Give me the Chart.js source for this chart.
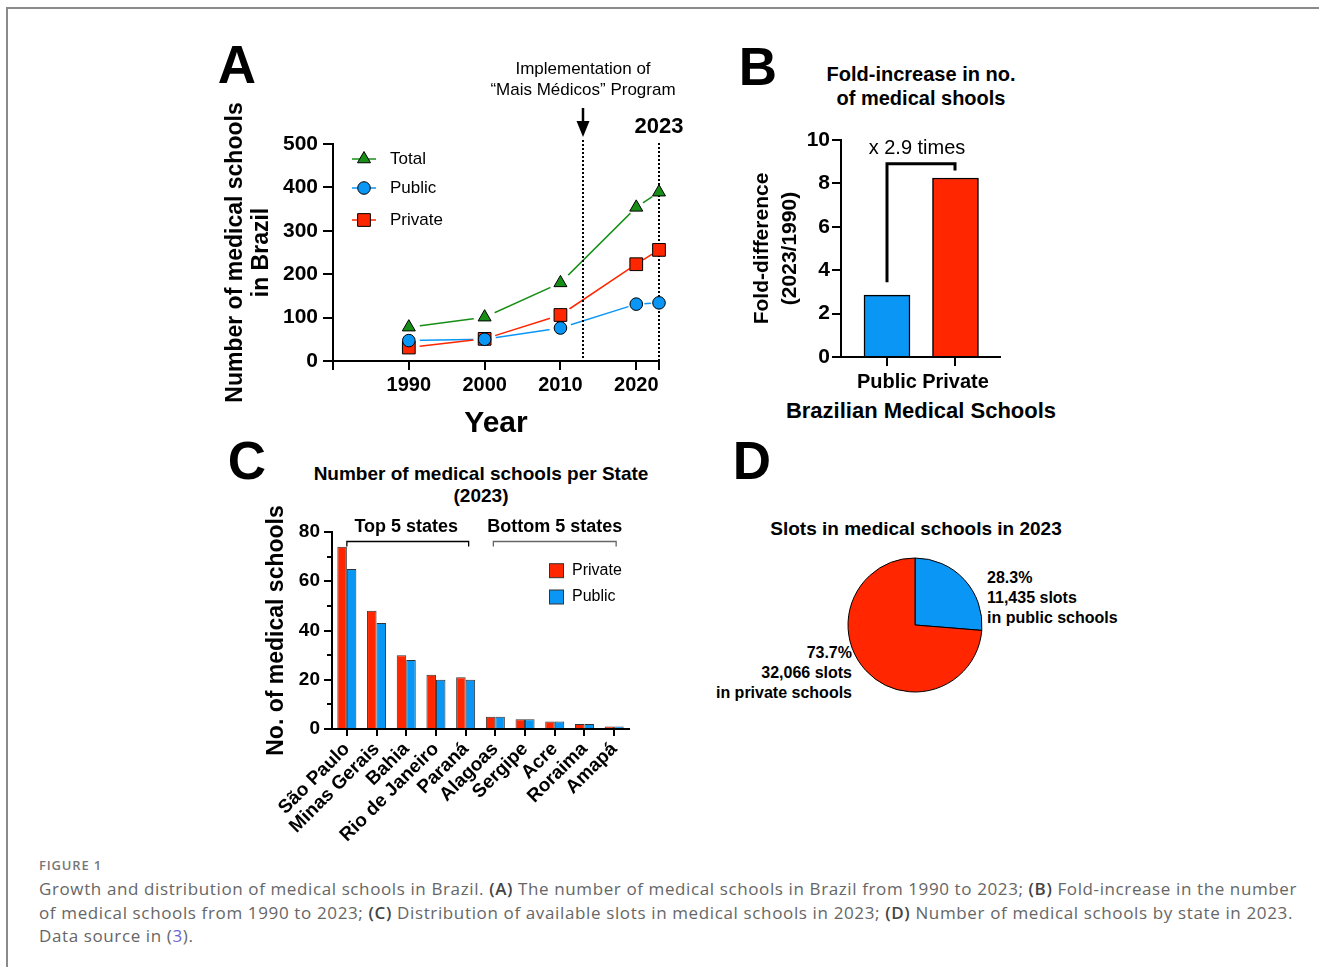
<!DOCTYPE html>
<html>
<head>
<meta charset="utf-8">
<script src="https://cdn.jsdelivr.net/npm/chart.js@4/dist/chart.umd.min.js"></script>
<style>
  html, body { margin: 0; padding: 0; background: #fff; }
  body { width: 1319px; height: 967px; position: relative; overflow: hidden;
         font-family: 'Liberation Sans', Arial, Helvetica, sans-serif; color: #000; }
  .frame { position: absolute; left: 6px; top: 7px; width: 1320px; height: 970px;
           border-left: 2px solid #8a8a8a; border-top: 2px solid #8a8a8a; }
  canvas { position: absolute; }
  .t { position: absolute; white-space: nowrap; line-height: 1; transform: translate(-50%, -50%); }
  .tl { position: absolute; white-space: nowrap; line-height: 1; transform: translate(0, -50%); }
  .tr { position: absolute; white-space: nowrap; line-height: 1; transform: translate(-100%, -50%); }
  .letter { font-size: 53px; font-weight: bold; }
  .b { font-weight: bold; }
  .cap { position: absolute; left: 39px; white-space: nowrap; line-height: 1; transform: translate(0, -50%);
         font-family: 'Open Sans', 'Noto Sans', sans-serif; font-weight: 400; font-size: 17px; color: #666; }
  .cap b { color: #444; font-weight: 600; }
</style>
</head>
<body>
<div class="frame"></div>

<div class="t letter" style="left:237px; top:64px;">A</div>
<div class="t letter" style="left:758px; top:66px;">B</div>
<div class="t letter" style="left:247px; top:460px;">C</div>
<div class="t letter" style="left:752px; top:460px;">D</div>

<div class="t b" style="left:921px; top:74px; font-size:20px;">Fold-increase in no.</div>
<div class="t b" style="left:921px; top:98px; font-size:20px;">of medical shools</div>
<div class="t b" style="left:921px; top:411px; font-size:22px;">Brazilian Medical Schools</div>

<div class="t b" style="left:481px; top:473px; font-size:19px;">Number of medical schools per State</div>
<div class="t b" style="left:481px; top:495px; font-size:19px;">(2023)</div>

<div class="t b" style="left:916px; top:528px; font-size:19px;">Slots in medical schools in 2023</div>
<div class="tl b" style="left:987px; top:578px; font-size:16px;">28.3%</div>
<div class="tl b" style="left:987px; top:598px; font-size:16px;">11,435 slots</div>
<div class="tl b" style="left:987px; top:618px; font-size:16px;">in public schools</div>
<div class="tr b" style="left:852px; top:653px; font-size:16px;">73.7%</div>
<div class="tr b" style="left:852px; top:673px; font-size:16px;">32,066 slots</div>
<div class="tr b" style="left:852px; top:693px; font-size:16px;">in private schools</div>

<div class="cap" id="fig" style="top:865px; font-size:13px; font-weight:600; color:#777;">FIGURE 1</div>
<div class="cap" id="cap1" style="top:888px;">Growth and distribution of medical schools in Brazil. <b>(A)</b> The number of medical schools in Brazil from 1990 to 2023; <b>(B)</b> Fold-increase in the number</div>
<div class="cap" id="cap2" style="top:912px;">of medical schools from 1990 to 2023; <b>(C)</b> Distribution of available slots in medical schools in 2023; <b>(D)</b> Number of medical schools by state in 2023.</div>
<div class="cap" id="cap3" style="top:935px;">Data source in (<span style="color:#6f63d6">3</span>).</div>

<canvas id="chartA" width="500" height="400" style="left:200px; top:40px;"></canvas>
<canvas id="chartB" width="280" height="320" style="left:740px; top:110px;"></canvas>
<canvas id="chartC" width="400" height="350" style="left:250px; top:500px;"></canvas>
<canvas id="chartD" width="150" height="150" style="left:840px; top:550px;"></canvas>

<script>
// Panel A: number of medical schools by year
const years = [1990, 2000, 2010, 2020, 2023];
const totalSchools = [78, 101, 180, 354, 389];
const publicSchools = [47, 50, 76, 131, 134];
const privateSchools = [31, 51, 106, 223, 256];
const yearTicks = [1980, 1990, 2000, 2010, 2020, 2023];
const yearLabels = [1990, 2000, 2010, 2020];
const countTicks = [0, 100, 200, 300, 400, 500];
const programYear = 2013;

// Panel B: fold increase 2023/1990
const foldGroups = ['Public', 'Private'];
const foldValues = [2.85, 8.25];
const foldTicks = [0, 2, 4, 6, 8, 10];

// Panel C: schools per state (2023)
const states = ['São Paulo', 'Minas Gerais', 'Bahia', 'Rio de Janeiro', 'Paraná',
                'Alagoas', 'Sergipe', 'Acre', 'Roraima', 'Amapá'];
const privateByState = [74, 48, 30, 22, 21, 5, 4, 3, 2, 1];
const publicByState = [65, 43, 28, 20, 20, 5, 4, 3, 2, 1];
const stateTicks = [0, 20, 40, 60, 80];
const stateMinorTicks = [10, 30, 50, 70];

// Panel D: slots in 2023
const slotGroups = ['Public', 'Private'];
const slotValues = [11435, 32066];

const GREEN = '#178f17';
const BLUE = '#0a96f5';
const RED = '#ff2600';
const FONT = "'Liberation Sans', Arial, Helvetica, sans-serif";

Chart.defaults.font.family = FONT;
Chart.defaults.color = '#000';
Chart.defaults.animation = false;
Chart.defaults.events = [];
Chart.defaults.plugins.legend.display = false;
Chart.defaults.plugins.tooltip.enabled = false;

function axisStyle(tickLength) {
    return {
        border: { display: true, color: '#000', width: 2, z: 1 },
        grid: { drawOnChartArea: false, drawTicks: true, tickLength: tickLength, color: '#000', lineWidth: 2, offset: false }
    };
}

function fixedTicks(values) {
    return scale => { scale.ticks = values.map(v => ({ value: v })); };
}

function drawMarker(ctx, style, x, y, r, color) {
    ctx.beginPath();
    if (style === 'triangle') {
        ctx.moveTo(x, y - r);
        ctx.lineTo(x + r * Math.cos(Math.PI / 6), y + r / 2);
        ctx.lineTo(x - r * Math.cos(Math.PI / 6), y + r / 2);
        ctx.closePath();
    } else if (style === 'rect') {
        const s = r * Math.SQRT1_2;
        ctx.rect(x - s, y - s, 2 * s, 2 * s);
    } else {
        ctx.arc(x, y, r, 0, Math.PI * 2);
    }
    ctx.fillStyle = color;
    ctx.fill();
    ctx.lineWidth = 1;
    ctx.strokeStyle = '#000';
    ctx.stroke();
}

// ---------- Panel A ----------
const seriesA = [
    { label: 'Total', values: totalSchools, color: GREEN, style: 'triangle', radius: 7.5, order: 3 },
    { label: 'Public', values: publicSchools, color: BLUE, style: 'circle', radius: 6.3, order: 1 },
    { label: 'Private', values: privateSchools, color: RED, style: 'rect', radius: 9, order: 2 }
];
const toPoints = values => years.map((yr, i) => ({ x: yr, y: values[i] }));

// white disc under each marker, so lines stop short of the symbols
function haloRadius(ctx) {
    const xs = ctx.chart.scales.x;
    const i = ctx.dataIndex;
    const px = xs.getPixelForValue(years[i]);
    let gap = Infinity;
    if (i > 0) gap = Math.min(gap, px - xs.getPixelForValue(years[i - 1]));
    if (i < years.length - 1) gap = Math.min(gap, xs.getPixelForValue(years[i + 1]) - px);
    return Math.min(11, gap * 0.36);
}

const datasetsA = [
    ...seriesA.map((s, k) => ({
        data: toPoints(s.values), borderColor: s.color, borderWidth: 1.5,
        pointRadius: 0, tension: 0, order: 9 - k
    })),
    ...seriesA.map((s, k) => ({
        data: toPoints(s.values), showLine: false, pointRadius: haloRadius,
        pointBackgroundColor: '#fff', pointBorderWidth: 0, order: 6 - k
    })),
    ...seriesA.map(s => ({
        data: toPoints(s.values), showLine: false, pointStyle: s.style, pointRadius: s.radius,
        pointBackgroundColor: s.color, pointBorderColor: '#000', pointBorderWidth: 1, order: s.order,
        clip: false
    }))
];

const panelAExtras = {
    id: 'panelAExtras',
    afterDatasetDraw(chart, args) {
        if (args.index !== 5) return; // after the last halo layer, before markers
        const { ctx, chartArea, scales: { x } } = chart;
        ctx.save();
        ctx.strokeStyle = '#000';
        ctx.lineWidth = 2;
        ctx.setLineDash([2, 2]);
        [[programYear, chartArea.top - 4], [years[years.length - 1], chartArea.top - 1]].forEach(([yr, top]) => {
            const px = Math.round(x.getPixelForValue(yr));
            ctx.beginPath();
            ctx.moveTo(px, top);
            ctx.lineTo(px, chartArea.bottom);
            ctx.stroke();
        });
        ctx.restore();
    },
    afterDraw(chart) {
        const { ctx, scales: { x } } = chart;
        const px = Math.round(x.getPixelForValue(programYear));
        ctx.save();
        ctx.fillStyle = '#000';
        ctx.textAlign = 'center';
        ctx.textBaseline = 'middle';
        ctx.font = '17px ' + FONT;
        ctx.fillText('Implementation of', px, 29);
        ctx.fillText('\u201CMais Médicos\u201D Program', px, 50);
        // arrow
        ctx.strokeStyle = '#000';
        ctx.lineWidth = 2.5;
        ctx.beginPath();
        ctx.moveTo(px, 68);
        ctx.lineTo(px, 84);
        ctx.stroke();
        ctx.beginPath();
        ctx.moveTo(px - 6.5, 81);
        ctx.lineTo(px + 6.5, 81);
        ctx.lineTo(px, 97);
        ctx.closePath();
        ctx.fill();
        ctx.font = 'bold 22px ' + FONT;
        ctx.fillText('2023', x.getPixelForValue(years[years.length - 1]), 87);

        // legend
        const rows = [119, 148, 180];
        seriesA.forEach((s, k) => {
            const y = rows[k];
            ctx.strokeStyle = s.color;
            ctx.lineWidth = 1.5;
            ctx.beginPath();
            ctx.moveTo(152, y);
            ctx.lineTo(176, y);
            ctx.stroke();
            drawMarker(ctx, s.style, 164, y, s.radius, s.color);
            ctx.fillStyle = '#000';
            ctx.font = '17px ' + FONT;
            ctx.textAlign = 'left';
            ctx.fillText(s.label, 190, y);
        });
        ctx.restore();
    }
};

new Chart(document.getElementById('chartA'), {
    type: 'line',
    data: { datasets: datasetsA },
    options: {
        responsive: false,
        layout: { padding: { top: 104, right: 41, left: 0, bottom: 0 } },
        scales: {
            x: {
                type: 'linear', min: 1980, max: 2023,
                afterBuildTicks: fixedTicks(yearTicks),
                afterFit: s => { s.height = 79; },
                ...axisStyle(9),
                ticks: {
                    callback: v => yearLabels.includes(v) ? String(v) : '',
                    font: { size: 20, weight: 'bold' }, color: '#000', padding: 3,
                    maxRotation: 0, autoSkip: false
                },
                title: { display: true, text: 'Year', color: '#000',
                         font: { size: 30, weight: 'bold', lineHeight: 1 }, padding: { top: 0, bottom: 1 } }
            },
            y: {
                min: 0, max: 500,
                afterBuildTicks: fixedTicks(countTicks),
                afterFit: s => { s.width = 133; },
                ...axisStyle(10),
                ticks: { font: { size: 21, weight: 'bold' }, color: '#000', padding: 5 },
                title: { display: true, text: ['Number of medical schools', 'in Brazil'], color: '#000',
                         font: { size: 23, weight: 'bold', lineHeight: 1.13 }, padding: { top: 23, bottom: 0 } }
            }
        }
    },
    plugins: [panelAExtras]
});

// ---------- Panel B ----------
const panelBExtras = {
    id: 'panelBExtras',
    afterDatasetsDraw(chart) {
        const { ctx, scales: { x, y } } = chart;
        const xl = Math.round(x.getPixelForValue(1));
        const xr = Math.round(x.getPixelForValue(2));
        const yTop = y.getPixelForValue(8.9);
        ctx.save();
        ctx.strokeStyle = '#000';
        ctx.lineWidth = 3;
        ctx.lineJoin = 'miter';
        ctx.beginPath();
        ctx.moveTo(xl, y.getPixelForValue(foldValues[0] + 0.6));
        ctx.lineTo(xl, yTop);
        ctx.lineTo(xr, yTop);
        ctx.lineTo(xr, y.getPixelForValue(foldValues[1] + 0.35));
        ctx.stroke();
        ctx.fillStyle = '#000';
        ctx.font = '20px ' + FONT;
        ctx.textAlign = 'center';
        ctx.textBaseline = 'middle';
        ctx.fillText('x 2.9 times', (xl + xr) / 2 - 4, y.getPixelForValue(9.6));
        ctx.restore();
    }
};

new Chart(document.getElementById('chartB'), {
    type: 'bar',
    data: {
        datasets: [{
            data: foldValues.map((v, i) => ({ x: i + 1, y: v })),
            backgroundColor: [BLUE, RED],
            borderColor: '#000',
            borderWidth: 1.5,
            barThickness: 46
        }]
    },
    options: {
        responsive: false,
        layout: { padding: { top: 30, right: 20, left: 0, bottom: 0 } },
        scales: {
            x: {
                type: 'linear', min: 0.3285, max: 2.65, offset: false,
                afterBuildTicks: fixedTicks([1, 2]),
                afterFit: s => { s.height = 73; },
                ...axisStyle(9),
                ticks: { callback: v => foldGroups[v - 1] || '', font: { size: 20, weight: 'bold' },
                         color: '#000', padding: 4, maxRotation: 0, autoSkip: false }
            },
            y: {
                min: 0, max: 10,
                afterBuildTicks: fixedTicks(foldTicks),
                afterFit: s => { s.width = 101; },
                ...axisStyle(9),
                ticks: { font: { size: 21, weight: 'bold' }, color: '#000', padding: 2 },
                title: { display: true, text: ['Fold-difference', '(2023/1990)'], color: '#000',
                         font: { size: 21, weight: 'bold', lineHeight: 1.33 }, padding: { top: 8, bottom: 0 } }
            }
        }
    },
    plugins: [panelBExtras]
});

// ---------- Panel C ----------
const panelCExtras = {
    id: 'panelCExtras',
    afterDraw(chart) {
        const { ctx, chartArea, scales: { x, y } } = chart;
        ctx.save();
        // minor ticks
        ctx.strokeStyle = '#000';
        ctx.lineWidth = 2;
        stateMinorTicks.forEach(v => {
            const py = Math.round(y.getPixelForValue(v));
            ctx.beginPath();
            ctx.moveTo(chartArea.left - 5, py);
            ctx.lineTo(chartArea.left, py);
            ctx.stroke();
        });
        // group brackets
        const by = Math.round(y.getPixelForValue(76.4)) + 0.5;
        const groups = [
            { text: 'Top 5 states', from: 0, to: 4, color: '#000', l: 0, r: 3 },
            { text: 'Bottom 5 states', from: 5, to: 9, color: '#666', l: -2, r: 2 }
        ];
        groups.forEach(g => {
            const x0 = x.getPixelForValue(g.from) + g.l;
            const x1 = x.getPixelForValue(g.to) + g.r;
            ctx.strokeStyle = g.color;
            ctx.lineWidth = 1.3;
            ctx.beginPath();
            ctx.moveTo(x0, by + 5);
            ctx.lineTo(x0, by);
            ctx.lineTo(x1, by);
            ctx.lineTo(x1, by + 5);
            ctx.stroke();
            ctx.fillStyle = '#000';
            ctx.font = 'bold 18px ' + FONT;
            ctx.textAlign = 'center';
            ctx.textBaseline = 'middle';
            ctx.fillText(g.text, (x.getPixelForValue(g.from) + x.getPixelForValue(g.to)) / 2, by - 14);
        });
        // legend
        const items = [['Private', RED, 38.7], ['Public', BLUE, 65]];
        items.forEach(([label, color, dy]) => {
            const cy = chartArea.top + dy;
            ctx.fillStyle = color;
            ctx.fillRect(chartArea.left + 217.5, cy - 7, 14, 14);
            ctx.strokeStyle = '#333';
            ctx.lineWidth = 1;
            ctx.strokeRect(chartArea.left + 217.5, cy - 7, 14, 14);
            ctx.fillStyle = '#000';
            ctx.font = '16px ' + FONT;
            ctx.textAlign = 'left';
            ctx.textBaseline = 'middle';
            ctx.fillText(label, chartArea.left + 240, cy);
        });
        ctx.restore();
    }
};

new Chart(document.getElementById('chartC'), {
    type: 'bar',
    data: {
        labels: states,
        datasets: [
            { label: 'Private', data: privateByState, backgroundColor: RED, borderColor: '#333', borderWidth: 1 },
            { label: 'Public', data: publicByState, backgroundColor: BLUE, borderColor: '#333', borderWidth: 1 }
        ]
    },
    options: {
        responsive: false,
        layout: { padding: { top: 32, right: 21, left: 0, bottom: 0 } },
        datasets: { bar: { categoryPercentage: 0.64, barPercentage: 1 } },
        scales: {
            x: {
                offset: true,
                afterFit: s => { s.height = 121; },
                ...axisStyle(7),
                ticks: { font: { size: 19, weight: 'bold' }, color: '#000', padding: 2,
                         minRotation: 45, maxRotation: 45, autoSkip: false }
            },
            y: {
                min: 0, max: 80,
                afterBuildTicks: fixedTicks(stateTicks),
                afterFit: s => { s.width = 82; },
                ...axisStyle(8),
                ticks: { font: { size: 19, weight: 'bold' }, color: '#000', padding: 4 },
                title: { display: true, text: 'No. of medical schools', color: '#000',
                         font: { size: 23, weight: 'bold', lineHeight: 1 }, padding: { top: 15, bottom: 0 } }
            }
        }
    },
    plugins: [panelCExtras]
});

// ---------- Panel D ----------
new Chart(document.getElementById('chartD'), {
    type: 'pie',
    data: {
        labels: slotGroups,
        datasets: [{ data: slotValues, backgroundColor: [BLUE, RED], borderColor: '#000', borderWidth: 1 }]
    },
    options: {
        responsive: false,
        radius: 67,
        layout: { padding: 0 }
    }
});

// caption lines stretched to the reference line widths
function fitLine(id, target) {
    const el = document.getElementById(id);
    const w = el.getBoundingClientRect().width;
    const n = el.textContent.length;
    const ls = (target - w) / n;
    el.style.letterSpacing = ls + 'px';
    return ls;
}
const ls1 = fitLine('cap1', 1258);
fitLine('cap2', 1254);
document.getElementById('cap3').style.letterSpacing = ls1 + 'px';
fitLine('fig', 63);
</script>
</body>
</html>
